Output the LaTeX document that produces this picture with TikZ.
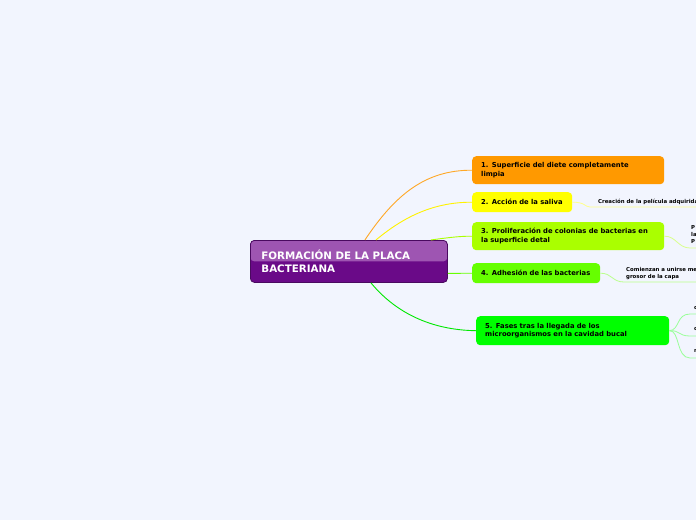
\documentclass[tikz,border=0pt]{standalone}
\usepackage{fontspec}
\setmainfont{DejaVu Sans}
\usetikzlibrary{calc}

\definecolor{bgblue}{HTML}{F2F5FE}
\definecolor{purpletop}{HTML}{9E55B2}
\definecolor{purplebot}{HTML}{6A0A88}
\definecolor{purpleedge}{HTML}{4A0A60}
\definecolor{topicone}{HTML}{FF9900}
\definecolor{topictwo}{HTML}{FFFF00}
\definecolor{topicthree}{HTML}{AAFF00}
\definecolor{topicfour}{HTML}{66FF00}
\definecolor{topicfive}{HTML}{00FF00}

\begin{document}
\begin{tikzpicture}[
  x=1pt, y=-1pt,
  mainnode/.style={draw=purpleedge, line width=0.8pt, rounded corners=4pt,
                   fill=purplebot, anchor=north west, align=left, text=white,
                   inner xsep=11pt, inner ysep=0pt,
                   font=\fontsize{10.3}{12.5}\selectfont\bfseries,
                   path picture={\fill[purpletop] (path picture bounding box.north west)
                                 rectangle (path picture bounding box.east);}},
  topic/.style={rounded corners=4pt, anchor=north west, align=left, text=black,
                inner xsep=9pt, inner ysep=0pt,
                font=\fontsize{6.8}{8.5}\selectfont\bfseries},
  leaf/.style={anchor=north west, inner sep=0pt, align=left, text=black,
               font=\fontsize{5.4}{6.8}\selectfont\bfseries},
  branch/.style={line width=0.9pt},
  twig/.style={line width=0.8pt},
]

% ---------------- canvas ----------------
\path[use as bounding box, fill=bgblue] (0,0) rectangle (696,520);
\clip (0,0) rectangle (696,520);

% ---------------- central topic ----------------
\node[mainnode, minimum width=197pt, minimum height=42pt, text width=175pt] (main)
  at (250,240) {FORMACIÓN DE LA PLACA\\BACTERIANA};

% ---------------- main topics (right) ----------------
\node[topic, fill=topicone, text width=174pt, minimum height=28pt] (t1) at (472,156)
  {1. Superficie del diete completamente\\limpia};
\node[topic, fill=topictwo, text width=82pt, minimum height=20pt] (t2) at (472,192)
  {2. Acción de la saliva};
\node[topic, fill=topicthree, text width=174pt, minimum height=28pt] (t3) at (472,222)
  {3. Proliferación de colonias de bacterias en\\la superficie detal};
\node[topic, fill=topicfour, text width=110pt, minimum height=20pt] (t4) at (472,263)
  {4. Adhesión de las bacterias};
\node[topic, fill=topicfive, text width=175pt, minimum height=29pt] (t5) at (476,316)
  {5. Fases tras la llegada de los\\microorganismos en la cavidad bucal};

% ---------------- subtopics (cut at the edge) ----------------
\node[leaf] (s2) at (598,198.5) {Creación de la película adquirida};
\node[leaf] (s3) at (691,225.5) {P\\la\\P};
\node[leaf] (s4) at (626,267) {Comienzan a unirse me\\grosor de la capa};
\node[leaf] (s5a) at (694,306) {c};
\node[leaf] (s5b) at (694,327) {c};
\node[leaf] (s5c) at (694,349) {n};

\coordinate (e2) at (700,207);
\coordinate (e3) at (700,248);
\coordinate (e4) at (700,282);
\coordinate (e5a) at (700,314);
\coordinate (e5b) at (700,336);
\coordinate (e5c) at (700,358);

% ---------------- branches ----------------
\draw[branch, draw=topicone!85] ($(main.north)+(16,0)$)
  .. controls (395,195) and (425,170) .. (t1.west);
\draw[branch, draw=topictwo!90!orange] ($(main.north)+(27,0)$)
  .. controls (400,220) and (430,202) .. (t2.west);
\draw[branch, draw=topicthree] ($(main.north east)+(-17,0)$)
  .. controls (445,238) and (460,236) .. (t3.west);
\draw[branch, draw=topicfour] ($(main.east)+(0,12)$) -- (t4.west);
\draw[branch, draw=topicfive!85!black!60!topicfive] ($(main.south)+(22,0)$)
  .. controls (395,312) and (430,330) .. (t5.west);

% ---------------- twigs ----------------
\draw[twig, draw=topictwo!45] (t2.east) .. controls (585,202) and (585,207) .. (590,207) -- (e2);
\draw[twig, draw=topicthree!45] (t3.east) .. controls (676,236) and (678,248) .. (690,248) -- (e3);
\draw[twig, draw=topicfour!45] (t4.east) .. controls (612,273) and (612,282) .. (624,282) -- (e4);
\draw[twig, draw=topicfive!40] (t5.east) .. controls (680,330) and (676,314) .. (690,314) -- (e5a);
\draw[twig, draw=topicfive!40] (t5.east) .. controls (680,330) and (678,336) .. (690,336) -- (e5b);
\draw[twig, draw=topicfive!40] (t5.east) .. controls (680,330) and (676,358) .. (690,358) -- (e5c);

\end{tikzpicture}
\end{document}
